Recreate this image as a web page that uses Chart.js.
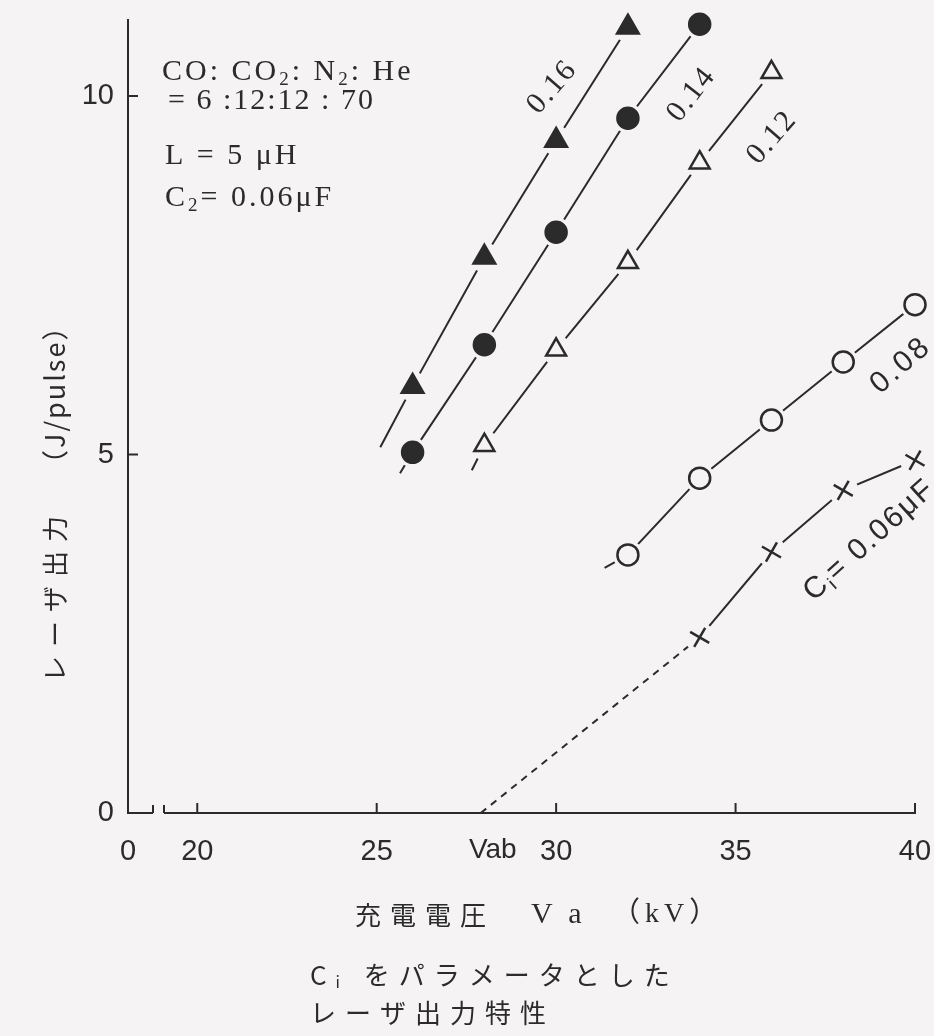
<!DOCTYPE html>
<html>
<head>
<meta charset="utf-8">
<script src="https://cdn.jsdelivr.net/npm/chart.js@4/dist/chart.umd.min.js"></script>
<style>
  html, body { margin: 0; padding: 0; background: #f5f3f3; }
  canvas { display: block; }
</style>
</head>
<body>
<canvas id="chart" width="934" height="1036"></canvas>
<script>
// Ci parameter of each curve (uF)
const seriesCi = ['0.16', '0.14', '0.12', '0.08', '0.06'];

// charge voltage Va (kV) and laser output (J/pulse) per curve
const kv016 = [26, 28, 30, 32];
const out016 = [5.95, 7.75, 9.38, 10.96];
const kv014 = [26, 28, 30, 32, 34];
const out014 = [5.03, 6.53, 8.1, 9.69, 11.0];
const kv012 = [28, 30, 32, 34, 36];
const out012 = [5.13, 6.46, 7.68, 9.07, 10.33];
const kv008 = [32, 34, 36, 38, 40];
const out008 = [3.6, 4.67, 5.48, 6.29, 7.09];
const kv006 = [34, 36, 38, 40];
const out006 = [2.45, 3.64, 4.5, 4.92];

// where each drawn line starts below its first point, and where 0.06 runs off the page
const lineStartKv = [25.1, 25.65, 27.65, 31.35, 27.9];
const lineStartOut = [5.1, 4.74, 4.78, 3.42, 0];
const lineEndKv = [null, null, null, null, 40.5];
const lineEndOut = [null, null, null, null, 5.2];
const vab = 27.9;

const xTickKv = [0, 20, 25, 30, 35, 40];
const yTickOut = [0, 5, 10];

const INK = '#2b2b2b';
const BG = '#f5f3f3';
const X_MIN = 18.07;   // broken axis: "0" sits at the left end

const markerStyle = ['triangle', 'circle', 'triangle', 'circle', 'cross'];
const markerFill = [INK, INK, BG, BG, INK];
const markerSize = [12.5, 10.5, 11.5, 10.5, 11];
const markerRot = [0, 0, 0, 0, 30];

const labelKv = [29.88, 33.76, 36.0, 39.58, 37.02];
const labelOut = [10.11, 10.01, 9.41, 6.23, 3.03];
const labelAngle = [-49, -52, -49, -41, -42];

const kvs = [kv016, kv014, kv012, kv008, kv006];
const outs = [out016, out014, out012, out008, out006];

const datasets = [];
kvs.forEach((kv, s) => {
  const pts = kv.map((v, i) => ({ x: v, y: outs[s][i] }));
  const line = [{ x: lineStartKv[s], y: lineStartOut[s] }].concat(pts);
  if (lineEndKv[s] !== null) line.push({ x: lineEndKv[s], y: lineEndOut[s] });
  datasets.push({
    label: 'Ci=' + seriesCi[s], data: line, showLine: true, pointRadius: 0,
    borderColor: INK, borderWidth: 2, order: 3, clip: false,
    segment: { borderDash: c => (s === 4 && c.p0DataIndex === 0) ? [7, 6] : undefined }
  });
  // blank ring so the line stops short of each mark
  datasets.push({
    data: pts, showLine: false, pointRadius: 15, pointBackgroundColor: BG,
    pointBorderWidth: 0, order: 2, clip: false
  });
  datasets.push({
    data: pts, showLine: false, pointStyle: markerStyle[s], pointRadius: markerSize[s],
    pointBackgroundColor: markerFill[s], pointBorderColor: INK, pointBorderWidth: 2.5,
    pointRotation: markerRot[s], order: 1, clip: false
  });
});

// draws text char by char with extra spacing; parts starting with "_" are subscripts
function drawRich(ctx, parts, x, y, size, family, spacing) {
  let cx = x;
  for (const p of parts) {
    const sub = p.startsWith('_');
    const t = sub ? p.slice(1) : p;
    const fs = sub ? Math.round(size * 0.62) : size;
    ctx.font = fs + 'px ' + family;
    for (const ch of t) {
      ctx.fillText(ch, cx, y + (sub ? size * 0.28 : 0));
      cx += ctx.measureText(ch).width + spacing;
    }
  }
  return cx;
}

function richWidth(ctx, parts, size, family, spacing) {
  let w = 0;
  for (const p of parts) {
    const sub = p.startsWith('_');
    const t = sub ? p.slice(1) : p;
    ctx.font = (sub ? Math.round(size * 0.62) : size) + 'px ' + family;
    for (const ch of t) w += ctx.measureText(ch).width + spacing;
  }
  return w - spacing;
}

const SERIF = '"Liberation Serif", "Noto Sans CJK JP", serif';
const SANS = '"Liberation Sans", sans-serif';
const JP = '"Noto Sans CJK JP", sans-serif';
const JPSERIF = '"Liberation Serif", "Noto Sans CJK JP", serif';

const decor = {
  id: 'decor',
  beforeDraw(chart) {
    const ctx = chart.ctx;
    ctx.save();
    ctx.fillStyle = BG;
    ctx.fillRect(0, 0, chart.width, chart.height);
    ctx.restore();
  },
  afterDraw(chart) {
    const ctx = chart.ctx;
    const xs = chart.scales.x, ys = chart.scales.y;
    const ca = chart.chartArea;
    ctx.save();
    ctx.strokeStyle = INK;
    ctx.fillStyle = INK;
    ctx.lineWidth = 2;

    // inward tick marks
    xTickKv.slice(1).forEach(v => {
      const px = xs.getPixelForValue(v);
      ctx.beginPath(); ctx.moveTo(px, ca.bottom); ctx.lineTo(px, ca.bottom - 10); ctx.stroke();
    });
    yTickOut.slice(1).forEach(v => {
      const py = ys.getPixelForValue(v);
      ctx.beginPath(); ctx.moveTo(ca.left, py); ctx.lineTo(ca.left + 10, py); ctx.stroke();
    });

    // axis break between 0 and 20
    const b0 = ca.left + 25, b1 = ca.left + 36;
    ctx.fillStyle = BG;
    ctx.fillRect(b0, ca.bottom - 4, b1 - b0, 8);
    ctx.fillStyle = INK;
    ctx.beginPath();
    ctx.moveTo(b0, ca.bottom); ctx.lineTo(b0, ca.bottom - 8);
    ctx.moveTo(b1, ca.bottom); ctx.lineTo(b1, ca.bottom - 8);
    ctx.stroke();

    // Vab under the axis
    ctx.textBaseline = 'middle';
    ctx.textAlign = 'center';
    ctx.font = '28px ' + SANS;
    ctx.fillText('Vab', xs.getPixelForValue(vab) + 12, ca.bottom + 37);

    // curve labels along the lines
    ctx.textAlign = 'left';
    const labelParts = [['0.16'], ['0.14'], ['0.12'], ['0.08'], ['C', '_i', '= 0.06μF']];
    const labelFont = [SERIF, SERIF, SERIF, SANS, SANS];
    const labelSpace = [2, 2, 2, 3, 2];
    labelParts.forEach((parts, i) => {
      const px = xs.getPixelForValue(labelKv[i]);
      const py = ys.getPixelForValue(labelOut[i]);
      ctx.save();
      ctx.translate(px, py);
      ctx.rotate(labelAngle[i] * Math.PI / 180);
      const w = richWidth(ctx, parts, 30, labelFont[i], labelSpace[i]);
      drawRich(ctx, parts, i === 4 ? 0 : -w / 2, 0, 30, labelFont[i], labelSpace[i]);
      ctx.restore();
    });

    // condition box
    const bx = ca.left + 34;
    drawRich(ctx, ['CO: CO', '_2', ': N', '_2', ': He'], bx, 72, 30, SERIF, 3);
    drawRich(ctx, ['= 6 :12:12 : 70'], bx + 6, 101, 30, SERIF, 2);
    drawRich(ctx, ['L = 5 μH'], bx + 3, 156, 30, SERIF, 3);
    drawRich(ctx, ['C', '_2', '= 0.06μF'], bx + 3, 198, 30, SERIF, 3);

    // x axis title
    drawRich(ctx, ['充電電圧　'], 355, 915, 26, JP, 9);
    drawRich(ctx, ['V a'], 531, 915, 30, SERIF, 4);
    drawRich(ctx, ['（kV）'], 612, 915, 28, JPSERIF, 5);

    // y axis title, reading upward
    ctx.save();
    ctx.translate(55, 682);
    ctx.rotate(-Math.PI / 2);
    drawRich(ctx, ['レーザ出力'], 0, 0, 26, JP, 9);
    drawRich(ctx, ['（J/pulse）'], 205, 0, 27, JP, 2);
    ctx.restore();

    // caption
    drawRich(ctx, ['C', '_i', ' をパラメータとした'], 310, 975, 26, JP, 9);
    drawRich(ctx, ['レーザ出力特性'], 310, 1013, 26, JP, 9);
    ctx.restore();
  }
};

const tickFont = { family: '"Liberation Sans Narrow", "Liberation Sans", sans-serif', size: 29 };

new Chart(document.getElementById('chart'), {
  type: 'scatter',
  data: { datasets: datasets },
  options: {
    responsive: false,
    devicePixelRatio: 1,
    animation: false,
    events: [],
    layout: { padding: { top: 20, right: 19, left: 0, bottom: 0 } },
    plugins: { legend: { display: false }, tooltip: { enabled: false }, title: { display: false } },
    scales: {
      x: {
        type: 'linear', min: X_MIN, max: 40,
        afterFit: s => { s.height = 223; s.paddingLeft = 0; s.paddingRight = 0; },
        afterBuildTicks: s => { s.ticks = xTickKv.map(v => ({ value: v === 0 ? X_MIN : v })); },
        ticks: {
          callback: (v, i) => String(xTickKv[i]), padding: 22, color: INK, font: tickFont,
          maxRotation: 0, autoSkip: false
        },
        grid: { display: false, drawTicks: false },
        border: { display: true, color: INK, width: 2 }
      },
      y: {
        type: 'linear', min: 0, max: 11.06,
        afterFit: s => { s.width = 128; s.paddingTop = 0; s.paddingBottom = 0; },
        afterBuildTicks: s => { s.ticks = yTickOut.map(v => ({ value: v })); },
        ticks: { padding: 14, color: INK, font: tickFont },
        grid: { display: false, drawTicks: false },
        border: { display: true, color: INK, width: 2 }
      }
    }
  },
  plugins: [decor]
});
</script>
</body>
</html>
